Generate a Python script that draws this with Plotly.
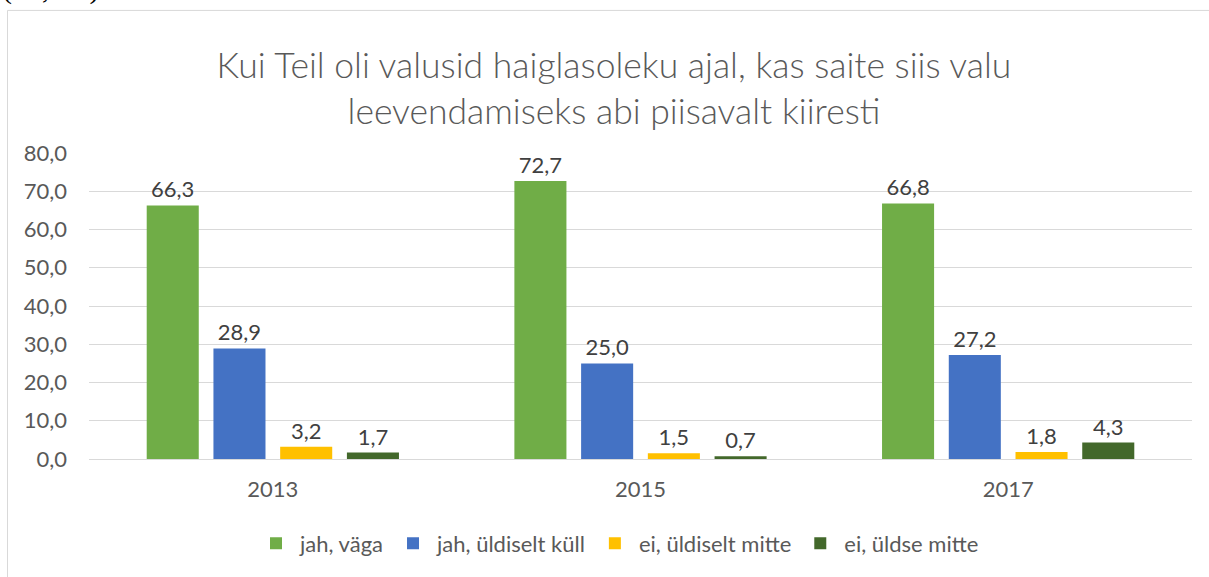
import plotly.graph_objects as go

years = ["2013", "2015", "2017"]
series_names = ["jah, väga", "jah, üldiselt küll", "ei, üldiselt mitte", "ei, üldse mitte"]
jah_vaga = [66.3, 72.7, 66.8]
jah_uldiselt = [28.9, 25.0, 27.2]
ei_uldiselt = [3.2, 1.5, 1.8]
ei_uldse = [1.7, 0.7, 4.3]
colors = ["#70AD47", "#4472C4", "#FFC000", "#43682B"]
y_ticks = [0, 10, 20, 30, 40, 50, 60, 70, 80]

W, H = 1209, 577
L, R, T, B = 89, 17, 153, 116
pw, ph = W - L - R, H - T - B

def px(x):
    return (x - L) / pw

def py(y):
    return (H - B - y) / ph

FONT = "Lato, sans-serif"

fig = go.Figure()
for name, vals, c in zip(series_names, [jah_vaga, jah_uldiselt, ei_uldiselt, ei_uldse], colors):
    fig.add_trace(go.Bar(
        x=years, y=vals, name=name, marker=dict(color=c, line=dict(width=0)),
        text=[f"{v:.1f}".replace(".", ",") for v in vals],
        textposition="outside", cliponaxis=False,
        textfont=dict(family=FONT, size=22, color="#404040"),
    ))

fig.update_layout(
    width=W, height=H,
    margin=dict(l=L, r=R, t=T, b=B),
    paper_bgcolor="white", plot_bgcolor="white",
    barmode="group", bargap=0.274, bargroupgap=0.22,
    font=dict(family=FONT, color="#595959"),
    title=dict(
        text="Kui Teil oli valusid haiglasoleku ajal, kas saite siis valu<br>leevendamiseks abi piisavalt kiiresti",
        x=px(614), xanchor="center", xref="paper", y=1 - 78 / H, yanchor="middle",
        font=dict(family=FONT, size=35.5, color="#595959", weight=300),
    ),
    xaxis=dict(
        showgrid=False, showline=True, linecolor="#D9D9D9", linewidth=1,
        ticks="", tickfont=dict(size=22, color="#595959"), ticklabelstandoff=11,
    ),
    yaxis=dict(
        range=[0, 80], tickvals=y_ticks,
        ticktext=[f"{v:.1f}".replace(".", ",") for v in y_ticks],
        showgrid=True, gridcolor="#D9D9D9", gridwidth=1, zeroline=False,
        showline=False, ticks="", tickfont=dict(size=22, color="#595959"),
        ticklabelstandoff=21,
    ),
    legend=dict(
        orientation="h", x=px(618), xanchor="center", y=py(546), yanchor="middle",
        font=dict(size=22, color="#595959"), itemwidth=38, traceorder="normal",
    ),
    showlegend=True,
)

fig.add_shape(type="rect", xref="paper", yref="paper",
              x0=px(7.5), x1=px(1225), y0=py(9.5), y1=py(600),
              line=dict(color="#D9D9D9", width=1), fillcolor="rgba(0,0,0,0)", layer="below")

fig.add_annotation(text="(27,2%).", xref="paper", yref="paper",
                   x=px(0), xanchor="left", y=py(6), yanchor="bottom",
                   showarrow=False,
                   font=dict(family="Liberation Serif, serif", size=30, color="#000000"))

fig.write_html("out.html", config={"displayModeBar": False},
               post_script="document.body.style.margin='0';")
